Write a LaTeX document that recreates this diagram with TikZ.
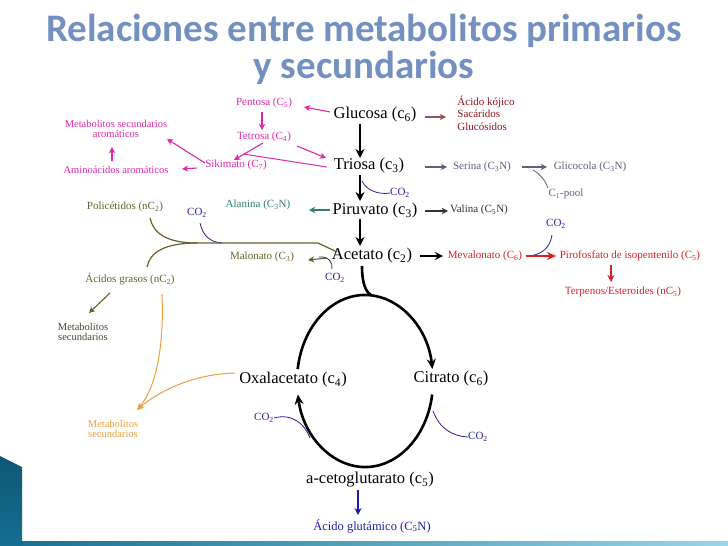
\documentclass[tikz,border=0pt]{standalone}
\usepackage{fontspec}
\setmainfont{Liberation Serif}
\newfontfamily\titlefont{Carlito}
\usetikzlibrary{arrows.meta}
\definecolor{titleblue}{RGB}{116,144,192}
\definecolor{mag}{RGB}{222,40,170}
\definecolor{kred}{RGB}{140,20,30}
\definecolor{kgray}{RGB}{150,80,90}
\definecolor{serc}{RGB}{95,95,130}
\definecolor{alac}{RGB}{50,130,100}
\definecolor{olive}{RGB}{100,100,40}
\definecolor{oliveg}{RGB}{70,70,50}
\definecolor{orng}{RGB}{235,160,60}
\definecolor{cotwo}{RGB}{35,35,150}
\definecolor{mred}{RGB}{215,35,40}
\definecolor{gblue}{RGB}{30,30,170}
\definecolor{teal1}{RGB}{20,110,145}
\definecolor{teal2}{RGB}{150,215,232}
\newcommand{\sbs}[1]{\textsubscript{#1}}
\tikzset{
  mainlbl/.style={font=\fontsize{16.5}{18}\selectfont, inner sep=0pt},
  smalllbl/.style={font=\fontsize{11}{12.5}\selectfont, inner sep=0pt},
  tinylbl/.style={font=\fontsize{10.5}{12}\selectfont, inner sep=0pt, align=center},
  bigarr/.style={line width=2.8pt, -{Stealth[length=9pt,width=9pt]}},
  thinarr/.style={line width=1.1pt, -{Stealth[length=6pt,width=6pt,inset=1.5pt]}},
  cyc/.style={line width=2.6pt},
  coline/.style={cotwo, line width=0.8pt},
  titletxt/.style={font=\titlefont\bfseries\fontsize{39}{42}\selectfont, inner sep=0pt, text=titleblue},
}
\newcommand{\at}[3]{([shift={(#2,#3)}]#1.center)}
\begin{document}
\begin{tikzpicture}[x=1pt,y=-1pt]
\useasboundingbox (0,0) rectangle (728,546);
\fill[white] (0,0) rectangle (728,546);
% decoration
\shade[left color=teal1, right color=teal2] (0,541) rectangle (728,546);
\shade[top color=teal1!80!black, bottom color=teal1] (0,456) -- (22,467) -- (22,546) -- (0,546) -- cycle;
% title
\node[titletxt] (t1) at (364,31) {Relaciones entre metabolitos primarios};
\node[titletxt] (t2) at (364,68) {y secundarios};

% main nodes
\node[mainlbl] (glu) at (375,115) {Glucosa (c\sbs{6})};
\node[mainlbl] (tri) at (369,166) {Triosa (c\sbs{3})};
\node[mainlbl] (pir) at (375,211) {Piruvato (c\sbs{3})};
\node[mainlbl] (ace) at (372,256) {Acetato (c\sbs{2})};
\node[mainlbl] (oxa) at (293,380) {Oxalacetato (c\sbs{4})};
\node[mainlbl] (cit) at (451,379) {Citrato (c\sbs{6})};
\node[mainlbl] (akg) at (370,480) {a-cetoglutarato (c\sbs{5})};
\node[font=\fontsize{12.5}{14}\selectfont, inner sep=0pt, text=gblue] (glut) at (372,526) {Ácido glutámico (C\sbs{5}N)};

% magenta group
\node[smalllbl, text=mag] (pen) at (264,103) {Pentosa (C\sbs{5})};
\node[smalllbl, text=mag] (tet) at (264,137) {Tetrosa (C\sbs{4})};
\node[smalllbl, text=mag] (sik) at (236,165) {Sikimato (C\sbs{7})};
\node[tinylbl, text=mag] (msa) at (116,129) {Metabolitos secundarios\\[-2pt]aromáticos};
\node[tinylbl, text=mag] (aaa) at (116,170) {Aminoácidos aromáticos};

% dark red group
\node[smalllbl, text=kred, align=left] (koj) at (486,113) {Ácido kójico\\Sacáridos\\Glucósidos};

% serina group
\node[smalllbl, text=serc] (ser) at (482,167) {Serina (C\sbs{3}N)};
\node[smalllbl, text=serc] (gli) at (590,167) {Glicocola (C\sbs{3}N)};
\node[smalllbl, text=serc] (cpool) at (566,194) {C\sbs{1}-pool};

\node[smalllbl, text=alac] (ala) at (258,205) {Alanina (C\sbs{3}N)};
\node[smalllbl, text=black!80] (val) at (479,210) {Valina (C\sbs{5}N)};

% olive
\node[smalllbl, text=olive] (pol) at (125,207) {Policétidos (nC\sbs{2})};
\node[smalllbl, text=olive] (mal) at (262,257) {Malonato (C\sbs{3})};
\node[smalllbl, text=olive] (agr) at (130,279) {Ácidos grasos (nC\sbs{2})};
\node[tinylbl, text=oliveg] (mso) at (83,332) {Metabolitos\\[-2pt]secundarios};
\node[tinylbl, text=orng] (msr) at (113,429) {Metabolitos\\[-2pt]secundarios};

% red
\node[smalllbl, text=mred] (mev) at (485,256) {Mevalonato (C\sbs{6})};
\node[smalllbl, text=mred] (ipp) at (630,256) {Pirofosfato de isopentenilo (C\sbs{5})};
\node[smalllbl, text=mred] (ter) at (623,292) {Terpenos/Esteroides (nC\sbs{5})};

% CO2 labels
\node[smalllbl, text=cotwo] (co1) at (400,193) {CO\sbs{2}};
\node[smalllbl, text=cotwo] (co2) at (197,213) {CO\sbs{2}};
\node[smalllbl, text=cotwo] (co3) at (335,278) {CO\sbs{2}};
\node[smalllbl, text=cotwo] (co4) at (556,224) {CO\sbs{2}};
\node[smalllbl, text=cotwo] (co5) at (264,418) {CO\sbs{2}};
\node[smalllbl, text=cotwo] (co6) at (478,437) {CO\sbs{2}};

% main spine
\draw[bigarr] \at{glu}{-15}{9} -- \at{tri}{-9}{-8};
\draw[bigarr] \at{tri}{-9}{9} -- \at{pir}{-15}{-10};
\draw[bigarr] \at{pir}{-15}{8} -- \at{ace}{-12}{-10};

% cycle
\coordinate (ctop) at (371,295);
\coordinate (cul) at (297.7,369);
\coordinate (clr) at (432.2,394.5);
\draw[cyc] \at{ace}{-10}{10} .. controls (362,284) and (366,292) .. (ctop);
\draw[cyc, -{Stealth[length=10pt,width=9pt]}] (cul) arc[start angle=188, end angle=352, x radius=68, y radius=86];
\draw[cyc, -{Stealth[length=10pt,width=9pt]}] (clr) arc[start angle=9, end angle=171, x radius=68, y radius=86];

% CO2 curves
\draw[coline] \at{tri}{-7}{15} .. controls (366,190) and (378,195) .. (co1.west);
\draw[coline] \at{co2}{3}{10} .. controls (203,236) and (210,242) .. (222,243);
\draw[coline] \at{co3}{-3}{-9} .. controls (333,262) and (328,256) .. (319,257);
\draw[coline] \at{co4}{-4}{11} .. controls (550,248) and (542,254) .. (530,256);
\draw[coline] (co5.east) .. controls (292,413) and (305,424) .. (310,438);
\draw[coline] (433,411) .. controls (440,429) and (452,436) .. (co6.west);

% magenta arrows
\begin{scope}[mag]
\draw[thinarr] \at{glu}{-45}{-3} -- \at{pen}{40}{4};
\draw[thinarr] \at{pen}{-2}{9} -- \at{tet}{-2}{-7};
\draw[thinarr] \at{tet}{33}{9} -- \at{tri}{-43}{-8};
\draw[thinarr] \at{tet}{-1}{6} -- \at{sik}{-2}{-5};
\draw[line width=1pt] \at{tri}{-42}{1} -- \at{sik}{7}{-11};
\draw[thinarr] \at{sik}{-31}{-2} -- \at{msa}{51}{10};
\draw[thinarr] \at{sik}{-39}{3} -- \at{aaa}{66}{-1};
\draw[thinarr] \at{aaa}{-4}{-9} -- \at{msa}{-4}{18};
\end{scope}

% Glucosa to kojic
\draw[thinarr, kgray] \at{glu}{50}{2} -- \at{koj}{-40}{4};
% serina
\draw[thinarr, serc] \at{tri}{56}{1} -- \at{ser}{-35}{0};
\draw[thinarr, serc] \at{ser}{40}{0} -- \at{gli}{-43}{0};
\draw[serc, line width=0.8pt] \at{cpool}{-18}{-6} .. controls (545,180) and (540,174) .. (533,170);
% piruvato
\draw[thinarr, alac] \at{pir}{-45}{-1} -- \at{ala}{51}{5};
\draw[thinarr, black!80] \at{pir}{50}{0} -- \at{val}{-31}{1};

% olive system
\coordinate (ojoin) at (197,243);
\draw[olive, line width=1.2pt] \at{ace}{-35}{-4} -- (318,243) -- (ojoin);
\draw[olive, line width=1.2pt] (ojoin) .. controls (165,243) and (153,232) .. \at{pol}{25}{11};
\draw[olive, line width=1.2pt] (ojoin) .. controls (165,243) and (150,252) .. \at{agr}{17}{-12};
\draw[thinarr, olive] \at{ace}{-45}{2} -- \at{mal}{46}{3};
\draw[thinarr, olive] \at{agr}{-20}{14} -- \at{mso}{6}{-19};
% orange
\draw[orng, line width=1pt, -{Stealth[length=7pt,width=6pt]}] \at{agr}{32}{15} .. controls (164,340) and (158,385) .. \at{msr}{24}{-19};
\draw[orng, line width=1pt, -{Stealth[length=7pt,width=6pt]}] \at{oxa}{-58}{-7} .. controls (195,374) and (160,390) .. \at{msr}{24}{-19};

% acetate to mevalonate
\draw[line width=1.6pt, -{Stealth[length=8pt,width=8pt]}] \at{ace}{48}{0} -- \at{mev}{-42}{0};
\draw[mred, line width=2pt, -{Stealth[length=9pt,width=8pt]}] \at{mev}{41}{0} -- \at{ipp}{-74}{0};
\draw[mred, line width=1.1pt, -{Stealth[length=7pt,width=7pt]}] \at{ipp}{-19}{9} -- \at{ter}{-12}{-10};

% glutamate
\draw[gblue, line width=1.1pt, -{Stealth[length=7pt,width=7pt]}] \at{akg}{-12}{10} -- \at{glut}{-14}{-11};
\end{tikzpicture}
\end{document}
